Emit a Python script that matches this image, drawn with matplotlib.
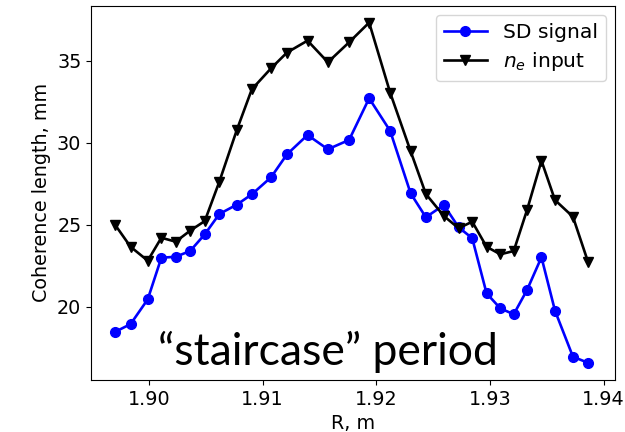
import matplotlib
matplotlib.use("Agg")
import matplotlib.pyplot as plt

R = [1.89703, 1.89838, 1.89989, 1.90109, 1.90235, 1.90362, 1.90491, 1.90619,
     1.90773, 1.90905, 1.91074, 1.91214, 1.91395, 1.91574, 1.91761, 1.91937,
     1.92122, 1.92302, 1.92436, 1.92594, 1.92724, 1.92844, 1.92970, 1.93091,
     1.93209, 1.93326, 1.93453, 1.93572, 1.93730, 1.93862]

sd_signal = [18.47, 18.94, 20.45, 22.99, 23.05, 23.40, 24.42, 25.66, 26.23, 26.86,
             27.90, 29.30, 30.48, 29.61, 30.18, 32.72, 30.73, 26.92, 25.46, 26.21,
             24.85, 24.18, 20.82, 19.90, 19.54, 21.02, 23.02, 19.76, 16.95, 16.58]

ne_input = [24.99, 23.66, 22.81, 24.21, 23.97, 24.64, 25.23, 27.63, 30.79, 33.27,
            34.55, 35.51, 36.24, 34.92, 36.14, 37.34, 33.06, 29.49, 26.88, 25.54,
            24.79, 25.19, 23.66, 23.20, 23.40, 25.90, 28.91, 26.51, 25.49, 22.75]

xticks = [1.90, 1.91, 1.92, 1.93, 1.94]
yticks = [20, 25, 30, 35]

fs = 13.8
fig = plt.figure(figsize=(6.25, 4.32), dpi=100)
ax = fig.add_axes([0.1456, 0.1204, 0.8384, 0.866])

ax.plot(R, sd_signal, color="blue", marker="o", markersize=7, linewidth=1.9,
        label="SD signal")
ax.plot(R, ne_input, color="black", marker="v", markersize=7, linewidth=1.9,
        label="$n_e$ input")

ax.set_xlim(1.8949, 1.941)
ax.set_ylim(15.53, 38.36)
ax.set_xticks(xticks)
ax.set_xticklabels([f"{t:.2f}" for t in xticks])
ax.set_yticks(yticks)
ax.tick_params(labelsize=fs)
ax.set_xlabel("R, m", fontsize=fs)
ax.set_ylabel("Coherence length, mm", fontsize=fs)

ax.legend(loc="upper right", fontsize=14.6, handlelength=2.1,
          labelspacing=0.4, borderaxespad=0.45)

ax.text(1.9008, 16.45, "\u201cstaircase\u201d period", fontsize=32,
        family=["Lato", "DejaVu Sans"], ha="left", va="baseline")

fig.savefig("out.png", dpi=100)
